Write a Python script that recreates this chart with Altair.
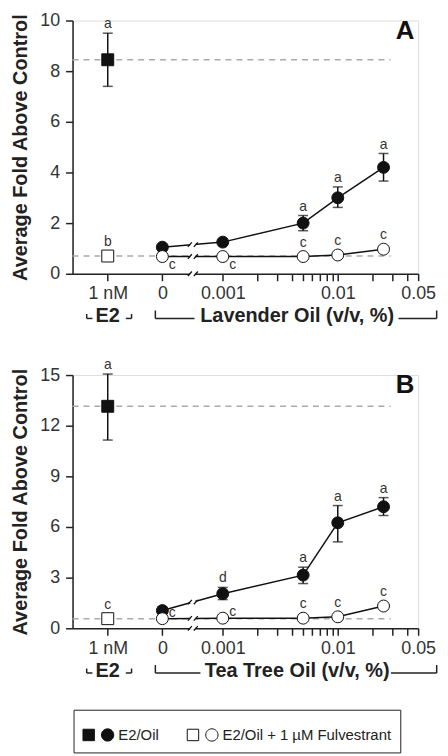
import math
import numpy as np
import pandas as pd
import altair as alt

FONT = "Liberation Sans"

# ---------------- data ----------------
concs = [0, 0.001, 0.005, 0.01, 0.025]
groups = ["E2/Oil", "E2/Oil + 1 µM Fulvestrant"]

# Panel A: Lavender oil
A_e2_val = [8.45, 0.70]          # filled (E2/Oil), open (+ Fulvestrant)
A_e2_lo = [7.40, np.nan]
A_e2_hi = [9.50, np.nan]
A_e2_lab = ["a", "b"]
A_fill_val = [1.05, 1.25, 2.00, 3.00, 4.20]
A_fill_lo = [np.nan, np.nan, 1.70, 2.62, 3.66]
A_fill_hi = [np.nan, np.nan, 2.30, 3.43, 4.75]
A_fill_lab = ["", "", "a", "a", "a"]
A_open_val = [0.68, 0.68, 0.68, 0.74, 0.97]
A_open_lab = ["c", "c", "c", "c", "c"]
A_open_place = ["right_low", "right_low", "above", "above", "above"]

# Panel B: Tea tree oil
B_e2_val = [13.15, 0.57]
B_e2_lo = [11.15, np.nan]
B_e2_hi = [15.06, np.nan]
B_e2_lab = ["a", "c"]
B_fill_val = [1.05, 2.05, 3.15, 6.25, 7.20]
B_fill_lo = [np.nan, 1.70, 2.65, 5.12, 6.68]
B_fill_hi = [np.nan, 2.42, 3.62, 7.27, 7.74]
B_fill_lab = ["", "d", "a", "a", "a"]
B_open_val = [0.57, 0.60, 0.60, 0.68, 1.32]
B_open_lab = ["c", "c", "c", "c", "c"]
B_open_place = ["right_high", "right_high", "above", "above", "above"]

# x axis construction (log10 of concentration, with "1 nM E2" and "0" placed left of a break)
E2_POS = -4.0
ZERO_POS = -3.525
BREAK_POS = -3.26
X_MIN = -4.306
X_MAX = math.log10(0.05)
DASH_END = -1.54
tick_concs = [0.001, 0.002, 0.003, 0.004, 0.005, 0.006, 0.007, 0.008, 0.009,
              0.01, 0.02, 0.03, 0.04, 0.05]
tick_label_pos = [E2_POS, ZERO_POS, -3.0, -2.0, X_MAX]
tick_label_text = ["1 nM", "0", "0.001", "0.01", "0.05"]

W, H = 348, 255


def xpos(c):
    return ZERO_POS if c == 0 else math.log10(c)


label_expr = ""
for p, t in zip(tick_label_pos, tick_label_text):
    label_expr += f"abs(datum.value - ({p})) < 0.005 ? '{t}' : "
label_expr += "''"

tick_values = [E2_POS, ZERO_POS] + [math.log10(c) for c in tick_concs]

BREAK_SHAPE = "M -1 0.45 L -0.2 -0.45 M 0.2 0.45 L 1 -0.45"
GAP_SHAPE = "M -0.55 -0.3 L 0.55 -0.3 L 0.55 0.3 L -0.55 0.3 Z"
LEGEND_SHAPE = ("M -1 -0.371 L -0.258 -0.371 L -0.258 0.371 L -1 0.371 Z "
                "M 1 0 A 0.4 0.4 0 1 1 0.2 0 A 0.4 0.4 0 1 1 1 0 Z")


def make_panel(e2_val, e2_lo, e2_hi, e2_lab, f_val, f_lo, f_hi, f_lab,
               o_val, o_lab, o_place, o_right_dy, ymax, ystep, letter,
               oil_title, seg_left_end, seg_right_start):
    rows = []
    for i, g in enumerate(groups):
        rows.append(dict(pos=E2_POS, val=e2_val[i], lo=e2_lo[i], hi=e2_hi[i],
                         group=g, kind="E2", lab=e2_lab[i], place="above"))
    for c, v, lo, hi, lab in zip(concs, f_val, f_lo, f_hi, f_lab):
        rows.append(dict(pos=xpos(c), val=v, lo=lo, hi=hi, group=groups[0],
                         kind="Oil", lab=lab, place="above"))
    for c, v, lab, pl in zip(concs, o_val, o_lab, o_place):
        rows.append(dict(pos=xpos(c), val=v, lo=np.nan, hi=np.nan, group=groups[1],
                         kind="Oil", lab=lab, place=pl))
    df = pd.DataFrame(rows)
    df["anchor"] = df["hi"].where(df["hi"].notna(), df["val"])
    df.loc[(df.place == "above") & df["hi"].notna(), "place"] = "above_bar"

    xscale = alt.Scale(domain=[X_MIN, X_MAX], nice=False, zero=False)
    yscale = alt.Scale(domain=[0, ymax], nice=False, zero=True)
    xaxis = alt.Axis(values=tick_values, labelExpr=label_expr, title=None,
                     tickSize=7, tickWidth=1.5, tickColor="#222", domainColor="#222",
                     domainWidth=1.5, labelFontSize=18, labelColor="#333",
                     labelPadding=4, labelFlush=False, labelOverlap=False,
                     grid=False, labelFont=FONT)
    yaxis = alt.Axis(values=list(range(0, ymax + 1, ystep)), title="Average Fold Above Control",
                     tickSize=7, tickWidth=1.5, tickColor="#222", domainColor="#222",
                     domainWidth=1.5, labelFontSize=18, labelColor="#333",
                     labelPadding=6, labelFlush=False, grid=False, labelFont=FONT,
                     titleFont=FONT, titleFontSize=20, titleFontWeight="bold",
                     titleColor="#222", titlePadding=9)
    X = alt.X("pos:Q", scale=xscale, axis=xaxis)
    Y = alt.Y("val:Q", scale=yscale, axis=yaxis)

    base = alt.Chart(df)

    # dashed reference lines at the E2 levels
    ref = pd.DataFrame({"pos": [X_MIN, X_MIN], "pos2": [DASH_END, DASH_END], "val": e2_val})
    dashed = alt.Chart(ref).mark_rule(color="#aaaaaa", strokeWidth=1.5, strokeDash=[6, 5]).encode(
        x=X, x2="pos2:Q", y=Y)

    err = base.transform_filter("isValid(datum.lo)")
    bars = err.mark_rule(color="#111", strokeWidth=1.5).encode(
        x=X, y=alt.Y("lo:Q", scale=yscale, axis=yaxis), y2="hi:Q")
    cap_lo = err.mark_tick(color="#111", thickness=1.5, size=10, orient="horizontal").encode(
        x=X, y=alt.Y("lo:Q", scale=yscale, axis=yaxis))
    cap_hi = err.mark_tick(color="#111", thickness=1.5, size=10, orient="horizontal").encode(
        x=X, y=alt.Y("hi:Q", scale=yscale, axis=yaxis))

    oil = base.transform_filter("datum.kind == 'Oil'")
    lines = oil.mark_line(color="#111", strokeWidth=1.5).encode(
        x=X, y=Y, detail="group:N", order="pos:Q")

    # break marks on both lines and on the axis
    t = (BREAK_POS - ZERO_POS) / (-3.0 - ZERO_POS)
    brk = pd.DataFrame({
        "pos": [BREAK_POS] * 3,
        "val": [f_val[0] + t * (f_val[1] - f_val[0]),
                o_val[0] + t * (o_val[1] - o_val[0]), 0.0],
    })
    gap = alt.Chart(brk).mark_point(shape=GAP_SHAPE, filled=True, fill="white",
                                    stroke=None, size=100, opacity=1).encode(x=X, y=Y)
    slashes = alt.Chart(brk).mark_point(shape=BREAK_SHAPE, filled=False, stroke="#111",
                                        strokeWidth=1.3, size=100, opacity=1).encode(x=X, y=Y)

    legend = alt.Legend(title=None, orient="none", legendX=1, legendY=694,
                        direction="horizontal", symbolType=LEGEND_SHAPE,
                        symbolSize=961, symbolStrokeColor="#111", symbolStrokeWidth=1,
                        symbolOpacity=1, labelFont=FONT, labelFontSize=15,
                        labelColor="#222", strokeColor="#222", padding=9,
                        columnPadding=26, labelOffset=4, labelLimit=400)
    fill = alt.Fill("group:N", scale=alt.Scale(domain=groups, range=["#111111", "white"]),
                    legend=legend)
    shape = alt.Shape("kind:N", scale=alt.Scale(domain=["E2", "Oil"], range=["square", "circle"]),
                      legend=None)
    pts_f = base.transform_filter(f"datum.group == '{groups[0]}'").mark_point(
        filled=True, size=144, stroke="#111", strokeWidth=1, opacity=1).encode(
        x=X, y=Y, fill=fill, shape=shape)
    pts_o = base.transform_filter(f"datum.group == '{groups[1]}'").mark_point(
        filled=True, size=144, stroke="#111", strokeWidth=1, opacity=1).encode(
        x=X, y=Y, fill=fill, shape=shape)

    def lab_layer(place, dx, dy):
        return base.transform_filter(f"datum.place == '{place}' && datum.lab != ''").mark_text(
            font=FONT, fontSize=14, color="#333", dx=dx, dy=dy, baseline="middle").encode(
            x=X, y=alt.Y("anchor:Q", scale=yscale, axis=yaxis), text="lab:N")

    labs = [lab_layer("above_bar", 0, -9), lab_layer("above", 0, -14),
            lab_layer("right_low", 10, 9), lab_layer("right_high", 10, o_right_dy)]

    letter_df = pd.DataFrame({"pos": [-1.414], "val": [ymax * 0.96], "t": [letter]})
    letter_mk = alt.Chart(letter_df).mark_text(font=FONT, fontSize=26, fontWeight="bold",
                                               color="#111").encode(x=X, y=Y, text="t:N")

    # bracketed axis captions below the x axis
    hseg = pd.DataFrame({"pos": [-4.183, -3.843, -3.586, seg_right_start],
                         "pos2": [-4.133, -3.793, seg_left_end, -1.140]})
    hrules = alt.Chart(hseg).mark_rule(color="#222", strokeWidth=1.5).encode(
        x=X, x2="pos2:Q", y=alt.value(300))
    vseg_small = pd.DataFrame({"pos": [-4.183, -3.793]})
    vrules_s = alt.Chart(vseg_small).mark_rule(color="#222", strokeWidth=1.5).encode(
        x=X, y=alt.value(295.5), y2=alt.value(300))
    vseg_big = pd.DataFrame({"pos": [-3.586, -1.140]})
    vrules_b = alt.Chart(vseg_big).mark_rule(color="#222", strokeWidth=1.5).encode(
        x=X, y=alt.value(292), y2=alt.value(300))
    cap_df = pd.DataFrame({"pos": [E2_POS, -2.353], "t": ["E2", oil_title]})
    caps = alt.Chart(cap_df).mark_text(font=FONT, fontSize=20, fontWeight="bold",
                                       color="#222", baseline="middle").encode(
        x=X, y=alt.value(298), text="t:N")

    return alt.layer(dashed, bars, cap_lo, cap_hi, lines, gap, slashes, pts_f, pts_o,
                     *labs, letter_mk, hrules, vrules_s, vrules_b, caps).properties(
        width=W, height=H)


panelA = make_panel(A_e2_val, A_e2_lo, A_e2_hi, A_e2_lab, A_fill_val, A_fill_lo, A_fill_hi,
                    A_fill_lab, A_open_val, A_open_lab, A_open_place, -6, 10, 2, "A",
                    "Lavender Oil (v/v, %)", -3.246, -1.472)
panelB = make_panel(B_e2_val, B_e2_lo, B_e2_hi, B_e2_lab, B_fill_val, B_fill_lo, B_fill_hi,
                    B_fill_lab, B_open_val, B_open_lab, B_open_place, -6, 15, 3, "B",
                    "Tea Tree Oil (v/v, %)", -3.194, -1.538)

chart = alt.vconcat(panelA, panelB, spacing=102, bounds="flush").properties(
    padding={"left": 2, "top": 0, "right": 2, "bottom": 2}
).configure_view(stroke=None).configure(font=FONT)

chart.save("out.html", embed_options={"renderer": "svg", "actions": False})
